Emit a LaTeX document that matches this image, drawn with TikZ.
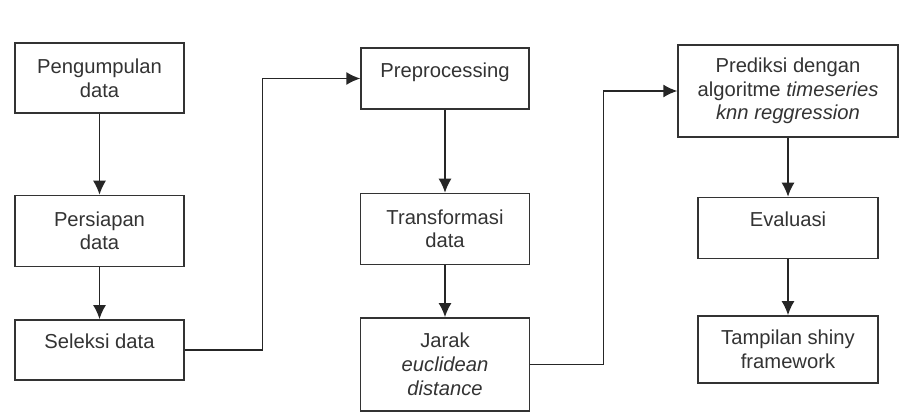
\documentclass[tikz,border=0pt]{standalone}
\usepackage{fontspec}
\setmainfont{Liberation Sans}
\usetikzlibrary{arrows.meta, positioning}

\begin{document}
\begin{tikzpicture}[
  font=\fontsize{11.5}{13.5}\selectfont,
  >={Latex[length=2.8mm, width=2.6mm]},
  box/.style={
    draw=black!80,
    align=center,
    text=black!80,
    minimum width=3.38cm,
    minimum height=1.42cm,
    inner sep=2pt,
    line width=0.8pt
  },
  oneline/.style={text depth=0.33cm},
  arrow/.style={->, line width=0.8pt, draw=black!85}
]

\useasboundingbox (0,0) rectangle (18.3,-8.28);

% kolom kiri
\node[box, minimum height=1.4cm] (kumpul) at (1.99,-1.56) {Pengumpulan\\data};
\node[box, below=1.62cm of kumpul] (siap) {Persiapan\\data};
\node[box, oneline, minimum height=1.2cm, below=1.04cm of siap] (seleksi) {Seleksi data};

% kolom tengah
\node[box, oneline, minimum width=3.36cm, minimum height=1.22cm] (prepro) at (8.9,-1.57) {Preprocessing};
\node[box, below=1.66cm of prepro] (transf) {Transformasi\\data};
\node[box, minimum height=1.86cm, below=1.04cm of transf] (jarak) {Jarak\\\textit{euclidean}\\\textit{distance}};

% kolom kanan
\node[box, minimum width=4.4cm, minimum height=1.84cm] (prediksi) at (15.76,-1.82) {Prediksi dengan\\algoritme \textit{timeseries}\\\textit{knn reggression}};
\node[box, oneline, minimum width=3.6cm, minimum height=1.22cm, below=1.18cm of prediksi] (eval) {Evaluasi};
\node[box, minimum width=3.6cm, minimum height=1.34cm, below=1.12cm of eval] (tampil) {Tampilan shiny\\framework};

% alur
\draw[arrow] (kumpul) -- (siap);
\draw[arrow] (siap) -- (seleksi);
\draw[arrow] (seleksi.east) -- ++(1.56,0) |- (prepro.west);
\draw[arrow] (prepro) -- (transf);
\draw[arrow] (transf) -- (jarak);
\draw[arrow] (jarak.east) -- ++(1.46,0) |- (prediksi.west);
\draw[arrow] (prediksi) -- (eval);
\draw[arrow] (eval) -- (tampil);

\end{tikzpicture}
\end{document}
